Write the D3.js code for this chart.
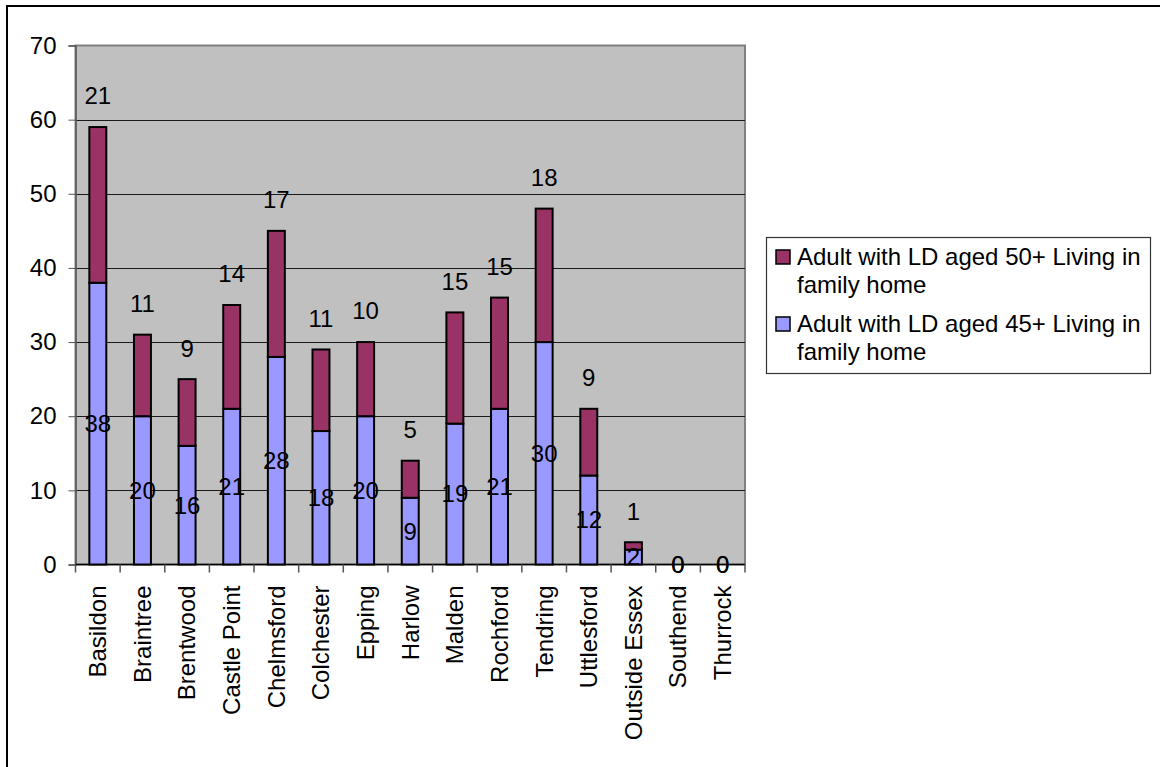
<!DOCTYPE html>
<html>
<head>
<meta charset="utf-8">
<script src="https://cdn.jsdelivr.net/npm/d3@7"></script>
<style>
  html, body { margin: 0; padding: 0; background: #fff; }
  svg { display: block; }
  text { font-family: "Liberation Sans", Arial, sans-serif; fill: #000; }
</style>
</head>
<body>
<svg id="chart" width="1160" height="767"></svg>
<script>
const categories = ["Basildon","Braintree","Brentwood","Castle Point","Chelmsford","Colchester","Epping","Harlow","Malden","Rochford","Tendring","Uttlesford","Outside Essex","Southend","Thurrock"];
const aged45 = [38,20,16,21,28,18,20,9,19,21,30,12,2,0,0];
const aged50 = [21,11,9,14,17,11,10,5,15,15,18,9,1,0,0];
const yTicks = [0,10,20,30,40,50,60,70];
const seriesNames = ["Adult with LD aged 50+ Living in family home", "Adult with LD aged 45+ Living in family home"];
const colors = { aged45: "#9999FF", aged50: "#993366" };

const svg = d3.select("#chart");
const FS = 24;

// outer border (extends beyond the visible area)
svg.append("rect").attr("x", 7).attr("y", 6).attr("width", 1170).attr("height", 780)
  .attr("fill", "#fff").attr("stroke", "#000").attr("stroke-width", 2);

const plot = { left: 75.5, right: 745, top: 45.5, bottom: 564.5 };

const x = d3.scaleBand().domain(categories).range([plot.left, plot.right])
  .paddingInner(0.62).paddingOuter(0.31);
const xOuter = d3.scaleBand().domain(categories).range([plot.left, plot.right]).padding(0);
const y = d3.scaleLinear().domain([0, 70]).range([plot.bottom, plot.top]);

// plot area background
svg.append("rect").attr("x", plot.left).attr("y", plot.top)
  .attr("width", plot.right - plot.left).attr("height", plot.bottom - plot.top)
  .attr("fill", "#C0C0C0").attr("stroke", "#808080").attr("stroke-width", 2);

// gridlines
svg.append("g").selectAll("line").data(yTicks.filter(d => d > 0 && d < 70)).join("line")
  .attr("x1", plot.left).attr("x2", plot.right)
  .attr("y1", d => Math.round(y(d)) + 0.5).attr("y2", d => Math.round(y(d)) + 0.5)
  .attr("stroke", "#1a1a1a").attr("stroke-width", 1);

// y axis
const yAxis = d3.axisLeft(y).tickValues(yTicks).tickSize(7).tickPadding(12);
const gy = svg.append("g").attr("transform", `translate(${plot.left},0)`).call(yAxis);
gy.select(".domain").attr("stroke", "#555").attr("stroke-width", 1.5);
gy.selectAll(".tick line").attr("stroke", "#555");
gy.selectAll(".tick text").attr("font-size", FS).attr("font-family", '"Liberation Sans", Arial, sans-serif').attr("fill", "#000");

// x axis
const gx = svg.append("g").attr("transform", `translate(0,${plot.bottom})`);
gx.append("line").attr("x1", plot.left).attr("x2", plot.right).attr("y1", 0).attr("y2", 0)
  .attr("stroke", "#000").attr("stroke-width", 1.5);
const boundaries = categories.map(c => xOuter(c)).concat([plot.right]);
gx.selectAll("line.tk").data(boundaries).join("line").attr("class", "tk")
  .attr("x1", d => d).attr("x2", d => d).attr("y1", 0).attr("y2", 8)
  .attr("stroke", "#555").attr("stroke-width", 1.5);
gx.selectAll("text").data(categories).join("text")
  .attr("transform", d => `translate(${xOuter(d) + xOuter.bandwidth() / 2},21) rotate(-90)`)
  .attr("text-anchor", "end").attr("dy", "0.35em")
  .attr("font-size", FS).text(d => d);

// bars
const stackData = categories.map((c, i) => ({ cat: c, a45: aged45[i], a50: aged50[i] }));
const gBars = svg.append("g");
stackData.forEach(d => {
  if (d.a45 > 0) {
    gBars.append("rect").attr("x", x(d.cat)).attr("width", x.bandwidth())
      .attr("y", y(d.a45)).attr("height", y(0) - y(d.a45))
      .attr("fill", colors.aged45).attr("stroke", "#000").attr("stroke-width", 2);
  }
  if (d.a50 > 0) {
    gBars.append("rect").attr("x", x(d.cat)).attr("width", x.bandwidth())
      .attr("y", y(d.a45 + d.a50)).attr("height", y(d.a45) - y(d.a45 + d.a50))
      .attr("fill", colors.aged50).attr("stroke", "#000").attr("stroke-width", 2);
  }
});

// labels
const gLab = svg.append("g").attr("font-size", FS).attr("text-anchor", "middle");
stackData.forEach(d => {
  const cx = x(d.cat) + x.bandwidth() / 2;
  gLab.append("text").attr("x", cx).attr("y", y(d.a45 / 2)).attr("dy", "0.35em").text(d.a45);
  const top = y(d.a45 + d.a50);
  gLab.append("text").attr("x", cx).attr("y", d.a50 > 0 ? top - 31 : top).attr("dy", "0.35em").text(d.a50);
});

// legend
const lg = svg.append("g");
lg.append("rect").attr("x", 766.5).attr("y", 237.5).attr("width", 384).attr("height", 136)
  .attr("fill", "#fff").attr("stroke", "#333").attr("stroke-width", 1.2);
const legendItems = [
  { lines: ["Adult with LD aged 50+ Living in", "family home"], color: colors.aged50, base: 265 },
  { lines: ["Adult with LD aged 45+ Living in", "family home"], color: colors.aged45, base: 332 }
];
legendItems.forEach(it => {
  lg.append("rect").attr("x", 776).attr("y", it.base - 15).attr("width", 14).attr("height", 14)
    .attr("fill", it.color).attr("stroke", "#000").attr("stroke-width", 1.5);
  it.lines.forEach((ln, j) => {
    lg.append("text").attr("x", 797).attr("y", it.base + j * 28).attr("font-size", FS).text(ln);
  });
});
</script>
</body>
</html>
